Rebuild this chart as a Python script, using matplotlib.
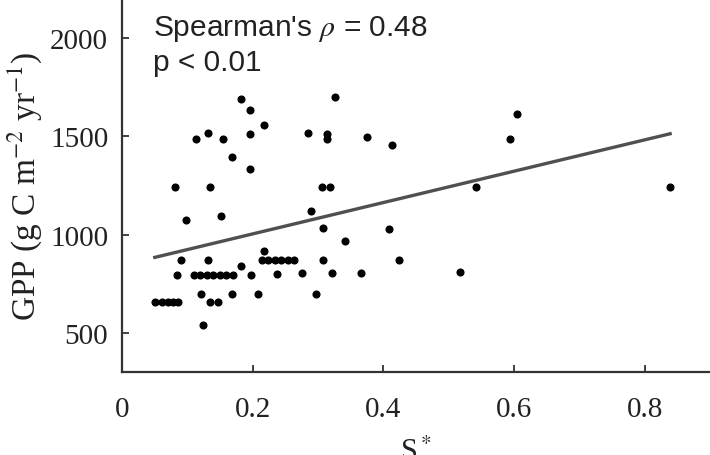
import numpy as np
import matplotlib
matplotlib.use("Agg")
import matplotlib.pyplot as plt

plt.rcParams['mathtext.fontset'] = 'stix'

s_star = [0.182, 0.196, 0.217, 0.132, 0.113, 0.155, 0.196, 0.168, 0.196, 0.081,
          0.135, 0.098, 0.152, 0.326, 0.285, 0.314, 0.314, 0.375, 0.413, 0.605,
          0.594, 0.306, 0.319, 0.542, 0.839, 0.289, 0.308, 0.409, 0.341, 0.217,
          0.214, 0.224, 0.234, 0.243, 0.254, 0.263, 0.308, 0.424, 0.090, 0.132,
          0.084, 0.110, 0.119, 0.130, 0.139, 0.150, 0.159, 0.170, 0.182, 0.198,
          0.237, 0.276, 0.322, 0.366, 0.518, 0.121, 0.168, 0.208, 0.297,
          0.050, 0.061, 0.070, 0.078, 0.086, 0.135, 0.147, 0.124]
gpp = [1690, 1634, 1558, 1517, 1486, 1486, 1512, 1395, 1334, 1242,
       1242, 1075, 1095, 1700, 1517, 1512, 1486, 1497, 1456, 1614,
       1486, 1242, 1242, 1242, 1242, 1120, 1034, 1029, 968, 917,
       871, 871, 871, 871, 871, 871, 871, 871, 871, 871,
       795, 795, 795, 795, 795, 795, 795, 795, 841, 795,
       800, 805, 805, 805, 810, 698, 698, 698, 698,
       658, 658, 658, 658, 658, 658, 658, 541]

annot_lines = ["Spearman's $\\rho$ = 0.48", "p < 0.01"]
xticks = [0, 0.2, 0.4, 0.6, 0.8]
yticks = [500, 1000, 1500, 2000]

x = np.array(s_star)
y = np.array(gpp)

fig = plt.figure(figsize=(7.1, 4.56), dpi=100)
ax = fig.add_axes([0.172, 0.182, 0.828, 0.818])

ax.scatter(x, y, s=34, color='black', zorder=3, linewidths=0)
coef = np.polyfit(x, y, 1)
xl = np.array([x.min(), x.max()])
ax.plot(xl, np.polyval(coef, xl), color='#505050', lw=2.4, zorder=2)

ax.set_xlim(0, 0.9)
ax.set_ylim(300, 2200)
ax.set_xticks(xticks)
ax.set_xticklabels(['0', '0.2', '0.4', '0.6', '0.8'])
ax.set_yticks(yticks)

for sp in ['top', 'right']:
    ax.spines[sp].set_visible(False)
for sp in ['left', 'bottom']:
    ax.spines[sp].set_color('#333333')
    ax.spines[sp].set_linewidth(1.6)

serif = ['Liberation Serif', 'DejaVu Serif']
ax.tick_params(axis='both', direction='in', length=5, width=1.3, color='#333333',
               labelsize=21)
ax.tick_params(axis='x', pad=17)
ax.tick_params(axis='y', pad=10)
for lab in ax.get_xticklabels() + ax.get_yticklabels():
    lab.set_family(serif)
    lab.set_color('#222222')

ax.set_ylabel('GPP (g C m$^{-2}$ yr$^{-1}$)', family=serif, fontsize=24,
              color='#222222', labelpad=4)
ax.set_xlabel('S$^*$', family=serif, fontsize=22, color='#222222', labelpad=12)

sans = ['Liberation Sans', 'DejaVu Sans']
ax.text(0.052, 0.962, annot_lines[0], transform=ax.transAxes, va='top', ha='left',
        fontsize=21.5, family=sans, color='#222222')
ax.text(0.052, 0.868, annot_lines[1], transform=ax.transAxes, va='top', ha='left',
        fontsize=21.5, family=sans, color='#222222')

fig.savefig('out.png', dpi=100)
